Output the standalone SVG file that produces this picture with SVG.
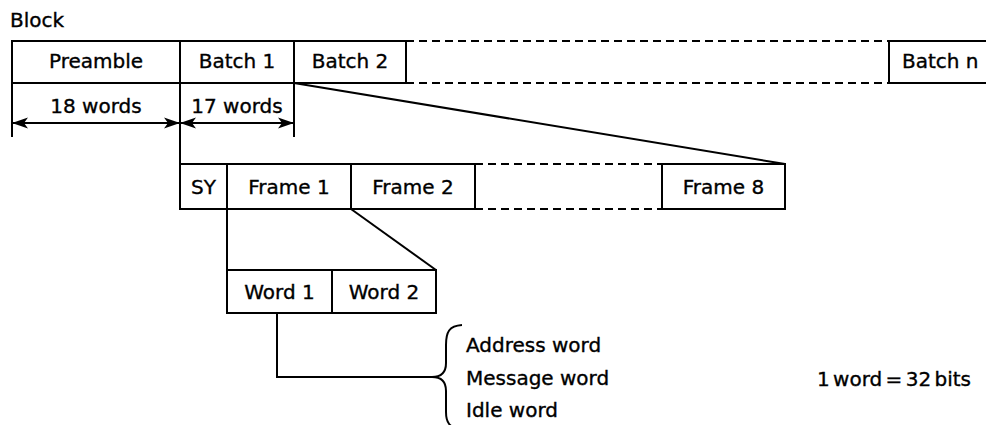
<svg xmlns="http://www.w3.org/2000/svg" width="986" height="425" viewBox="0 0 986 425">
<style>
  .t { font-family: "DejaVu Sans", "Liberation Sans", sans-serif; font-size: 20px; fill: #000; stroke: #000; stroke-width: 0.35; }
  .c { text-anchor: middle; }
  .s { fill: #fff; stroke: #000; stroke-width: 2; }
  .l { fill: none; stroke: #000; stroke-width: 2; }
  .d { fill: none; stroke: #000; stroke-width: 2; stroke-dasharray: 8 5; }
</style>
<defs>
  <marker id="ah" viewBox="0 -6 16 12" refX="16" refY="0" markerWidth="16" markerHeight="12" markerUnits="userSpaceOnUse" orient="auto-start-reverse">
    <path d="M16,0 L0,-5.5 L4,0 L0,5.5 z" fill="#000"/>
  </marker>
</defs>
<rect width="986" height="425" fill="#fff"/>
<text class="t" x="10" y="27">Block</text>

<g id="connectors">
  <line class="l" x1="12" y1="83" x2="12" y2="137"/>
  <line class="l" x1="294" y1="83" x2="294" y2="137"/>
  <line class="l" x1="180" y1="83" x2="180" y2="164"/>
  <line class="l" x1="12" y1="123" x2="180" y2="123" marker-start="url(#ah)" marker-end="url(#ah)"/>
  <line class="l" x1="180" y1="123" x2="294" y2="123" marker-start="url(#ah)" marker-end="url(#ah)"/>
  <line class="l" x1="294" y1="83" x2="785" y2="164"/>
  <line class="l" x1="227" y1="209" x2="227" y2="270"/>
  <line class="l" x1="351" y1="209" x2="436" y2="270"/>
  <polyline class="l" points="277,313 277,377 432,377"/>
  <path class="l" d="M462,325 C449,326 446,332 446,345 L446,363 C446,372 441,377 432,377 C441,377 446,382 446,391 L446,412 C446,422 449,428 462,430"/>
</g>

<g id="dim-labels">
  <text class="t c" x="96" y="113">18 words</text>
  <text class="t c" x="237" y="113">17 words</text>
</g>

<g id="preamble">
  <rect class="s" x="12" y="41" width="168" height="42"/>
  <text class="t c" x="96" y="68">Preamble</text>
</g>
<g id="batch1">
  <rect class="s" x="180" y="41" width="114" height="42"/>
  <text class="t c" x="237" y="68">Batch 1</text>
</g>
<g id="batch2">
  <rect class="s" x="294" y="41" width="112" height="42"/>
  <text class="t c" x="350" y="68">Batch 2</text>
</g>
<g id="batch-gap">
  <line class="d" x1="406" y1="41" x2="889" y2="41"/>
  <line class="d" x1="406" y1="83" x2="889" y2="83"/>
</g>
<g id="batchn">
  <polyline class="l" points="986,41 889,41 889,83 986,83"/>
  <text class="t" x="902" y="68">Batch n</text>
</g>

<g id="sy">
  <rect class="s" x="180" y="164" width="47" height="45"/>
  <text class="t c" x="203.5" y="194">SY</text>
</g>
<g id="frame1">
  <rect class="s" x="227" y="164" width="124" height="45"/>
  <text class="t c" x="289" y="194">Frame 1</text>
</g>
<g id="frame2">
  <rect class="s" x="351" y="164" width="124" height="45"/>
  <text class="t c" x="413" y="194">Frame 2</text>
</g>
<g id="frame-gap">
  <line class="d" x1="475" y1="164" x2="662" y2="164"/>
  <line class="d" x1="475" y1="209" x2="662" y2="209"/>
</g>
<g id="frame8">
  <rect class="s" x="662" y="164" width="123" height="45"/>
  <text class="t c" x="723.5" y="194">Frame 8</text>
</g>

<g id="word1">
  <rect class="s" x="227" y="270" width="105" height="43"/>
  <text class="t c" x="279.5" y="299">Word 1</text>
</g>
<g id="word2">
  <rect class="s" x="332" y="270" width="104" height="43"/>
  <text class="t c" x="384" y="299">Word 2</text>
</g>

<g id="word-types">
  <text class="t" x="466" y="352">Address word</text>
  <text class="t" x="466" y="385">Message word</text>
  <text class="t" x="466" y="417">Idle word</text>
</g>
<g id="note">
  <text class="t" x="817" y="386" word-spacing="-3">1 word = 32 bits</text>
</g>
</svg>
